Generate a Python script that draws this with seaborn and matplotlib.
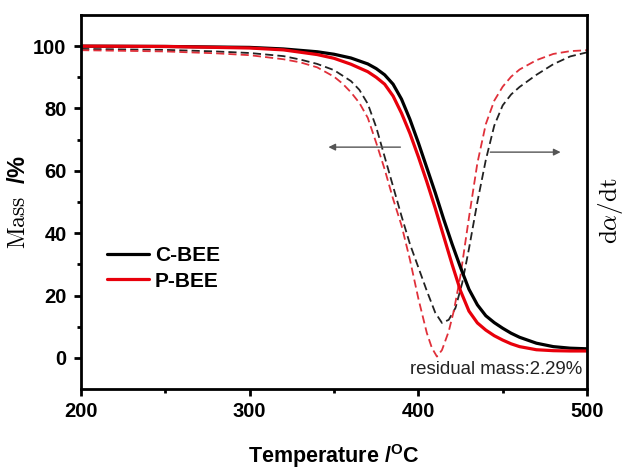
import numpy as np
import pandas as pd
import matplotlib
matplotlib.use('Agg')
import matplotlib.pyplot as plt
import seaborn as sns

# temperature grid (deg C) shared by the mass curves
temp = [200, 250, 300, 320, 340, 350, 360, 370, 375, 380, 385, 390, 395, 400, 405,
        410, 415, 420, 425, 430, 435, 440, 445, 450, 455, 460, 470, 480, 490, 500]
mass_c = [100, 99.9, 99.6, 99.1, 98.2, 97.4, 96.2, 94.3, 92.8, 90.8, 87.8, 83, 76.5, 69, 61,
          53, 44.5, 36.5, 29, 22, 17, 13.5, 11.3, 9.5, 7.9, 6.6, 4.7, 3.6, 3.1, 2.9]
mass_p = [100, 99.9, 99.4, 98.8, 97.3, 96.1, 94.2, 91.8, 90, 87.8, 84, 78.5, 72, 64.5, 56.5,
          48, 39, 30, 21.5, 15, 11.2, 8.9, 7.1, 5.7, 4.5, 3.6, 2.6, 2.3, 2.2, 2.2]

# derivative curves (da/dt), drawn on the same scale
temp_dc = [200, 250, 280, 300, 320, 330, 340, 350, 360, 365, 370, 375, 380, 385, 390, 395,
           400, 405, 410, 414, 418, 422, 426, 430, 435, 440, 445, 450, 455, 460, 470, 480,
           490, 500]
dtg_c = [99.1, 98.8, 98.3, 97.8, 96.8, 95.7, 94.3, 92.3, 88.8, 86, 81.5, 74, 64.5, 55, 45.5,
         36.5, 29, 21.5, 14.5, 11.2, 12.2, 16, 24, 35, 50, 63.5, 74.5, 81, 84.5, 86.9, 90.8,
         94.2, 96.7, 98]
temp_dp = [200, 250, 280, 300, 320, 330, 340, 350, 355, 360, 365, 370, 375, 380, 385, 390,
           395, 400, 405, 408, 411, 414, 418, 421, 425, 430, 435, 440, 445, 450, 455, 460,
           470, 480, 490, 500]
dtg_p = [98.7, 98.3, 97.7, 97.1, 95.8, 94.8, 93.2, 90.2, 88, 85.2, 81.8, 77, 69, 60.5, 51,
         42.5, 31.5, 19, 8, 3.2, 0.4, 2.5, 8.5, 15, 26.5, 45, 62.5, 75, 82.5, 87, 90.2, 92.5,
         95.5, 97.5, 98.4, 98.7]

labels = ['C-BEE', 'P-BEE']

sns.set_theme(style='ticks')
plt.rcParams['font.family'] = ['Liberation Sans', 'DejaVu Sans']
plt.rcParams['mathtext.fontset'] = 'cm'
plt.rcParams['mathtext.rm'] = 'Liberation Sans:bold'
for key in ['axes.edgecolor', 'xtick.color', 'ytick.color', 'text.color', 'axes.labelcolor']:
    plt.rcParams[key] = 'black'

fig = plt.figure(figsize=(6.24, 4.74), dpi=100)
ax = fig.add_axes([0.13, 0.1793, 0.8107, 0.7891])

red = '#e8000b'
dash_kw = dict(linewidth=1.3, dashes=(4.5, 2.3))
sns.lineplot(x=temp_dc, y=dtg_c, color='#222222', ax=ax, **dash_kw)
sns.lineplot(x=temp_dp, y=dtg_p, color='#e0303a', ax=ax, **dash_kw)
sns.lineplot(x=temp, y=mass_c, color='black', linewidth=2.3, ax=ax, label=labels[0])
sns.lineplot(x=temp, y=mass_p, color=red, linewidth=2.3, ax=ax, label=labels[1])

ax.set_xlim(200, 500)
ax.set_ylim(-10, 110)
ax.set_xticks([200, 300, 400, 500])
ax.set_xticks([250, 350, 450], minor=True)
ax.set_yticks([0, 20, 40, 60, 80, 100])
ax.set_yticks([10, 30, 50, 70, 90], minor=True)
ax.tick_params(which='major', direction='out', length=5, width=2, labelsize=14.5,
               right=False, top=False)
ax.tick_params(axis='x', which='major', pad=4.5)
ax.tick_params(axis='y', which='major', pad=5.5)
ax.tick_params(which='minor', direction='out', length=3, width=2, right=False, top=False)
for t in ax.get_xticklabels() + ax.get_yticklabels():
    t.set_fontweight('bold')
for s in ax.spines.values():
    s.set_linewidth(2)
    s.set_visible(True)

ax.set_xlabel(r'Temperature /$^{\mathrm{O}}$C', fontsize=15.5, fontweight='bold',
              labelpad=15, math_fontfamily='custom')
ax.set_ylabel(r'$\mathrm{Mass}$  /%', fontsize=17, fontweight='bold', labelpad=2,
              math_fontfamily='cm')
fig.text(0.978, 0.555, r'$\mathrm{d}\alpha/\mathrm{dt}$', rotation=90, fontsize=18,
         ha='center', va='center', math_fontfamily='cm')

# arrows pointing to the matching axes
arrow_kw = dict(arrowstyle='-|>', color='#555555', lw=1.0, mutation_scale=10)
ax.annotate('', xy=(345, 67.6), xytext=(391, 67.6), arrowprops=arrow_kw)
ax.annotate('', xy=(486, 66), xytext=(441, 66), arrowprops=arrow_kw)

ax.text(497, -3.8, 'residual mass:2.29%', fontsize=13.4, ha='right', va='center',
        color='#222222')

leg = ax.legend(loc='center left', bbox_to_anchor=(0.051, 0.322), frameon=False,
                fontsize=15, handlelength=2.0, handletextpad=0.3, labelspacing=0.3,
                borderpad=0, borderaxespad=0)
for t in leg.get_texts():
    t.set_fontweight('bold')

fig.savefig('out.png', dpi=100)
